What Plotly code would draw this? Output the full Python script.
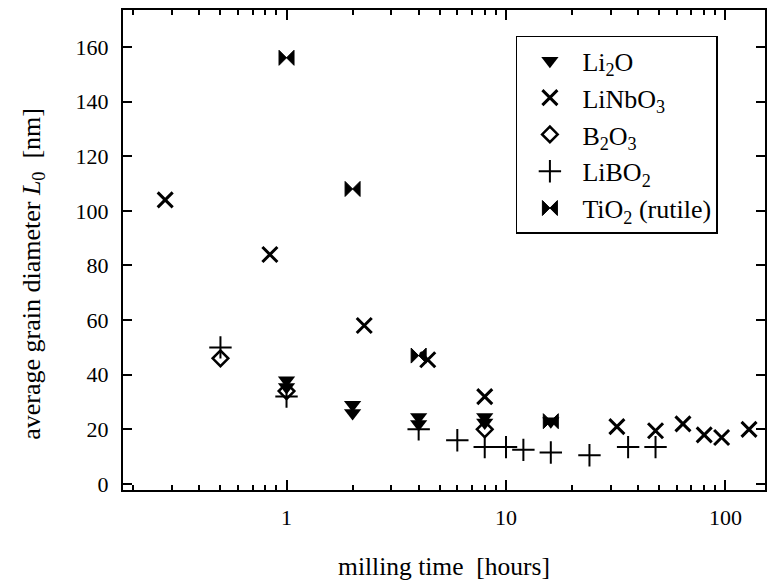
import plotly.graph_objects as go

# ---- data ----
li2o_x = [1, 1, 2, 2, 4, 4, 8, 8, 16]
li2o_y = [38, 35.5, 29, 26, 24.5, 22, 24.5, 22.5, 23]

linbo3_x = [0.28, 0.84, 2.26, 4.4, 8, 32, 48, 64, 80, 96, 128]
linbo3_y = [104, 84, 58, 45.5, 32, 21, 19.5, 22, 18, 17, 20]

b2o3_x = [0.5, 1, 8]
b2o3_y = [46, 34, 20]

libo2_x = [0.5, 1, 4, 6, 8, 10, 12, 16, 24, 36, 48]
libo2_y = [50, 32, 20, 16, 13.5, 13.5, 12.5, 11.5, 10.5, 13.5, 13.5]

tio2_x = [1, 2, 4, 16]
tio2_y = [156, 108, 47, 23]

x_major = [1, 10, 100]
x_major_text = ["1", "10", "100"]
x_minor = [0.2, 0.3, 0.4, 0.5, 0.6, 0.7, 0.8, 0.9,
           2, 3, 4, 5, 6, 7, 8, 9,
           20, 30, 40, 50, 60, 70, 80, 90]
y_ticks = [0, 20, 40, 60, 80, 100, 120, 140, 160]

x_title = "milling time  [hours]"
y_title = "average grain diameter <i>L</i><sub>0</sub>  [nm]"

FONT = "Liberation Serif"

fig = go.Figure()

fig.add_trace(go.Scatter(
    x=li2o_x, y=li2o_y, mode="markers", name="Li<sub>2</sub>O", legendgroup="a",
    marker=dict(symbol="triangle-down", size=15, color="black", line=dict(width=0))))
fig.add_trace(go.Scatter(
    x=linbo3_x, y=linbo3_y, mode="markers", name="LiNbO<sub>3</sub>", legendgroup="b",
    marker=dict(symbol="x-thin", size=15, color="black", line=dict(width=3, color="black"))))
fig.add_trace(go.Scatter(
    x=b2o3_x, y=b2o3_y, mode="markers", name="B<sub>2</sub>O<sub>3</sub>", legendgroup="c",
    marker=dict(symbol="diamond-open", size=12, color="black", line=dict(width=2.5, color="black"))))
fig.add_trace(go.Scatter(
    x=libo2_x, y=libo2_y, mode="markers", name="LiBO<sub>2</sub>", legendgroup="d",
    marker=dict(symbol="cross-thin", size=16, color="black", line=dict(width=2, color="black"))))
fig.add_trace(go.Scatter(
    x=tio2_x, y=tio2_y, mode="markers", name="TiO<sub>2</sub> (rutile)", legendgroup="e",
    marker=dict(symbol="bowtie", size=15, color="black", line=dict(width=1, color="black"))))

fig.update_layout(
    width=774, height=583,
    margin=dict(l=123, r=7, t=10, b=90),
    paper_bgcolor="white", plot_bgcolor="white",
    font=dict(family=FONT, size=21, color="black"),
    showlegend=True,
    legend=dict(
        x=0.612, y=0.946, xanchor="left", yanchor="top",
        bgcolor="white", bordercolor="black", borderwidth=1.5,
        font=dict(family=FONT, size=26, color="black"),
        tracegroupgap=0, itemwidth=55,
    ),
    annotations=[dict(
        text=y_title, textangle=-90, showarrow=False,
        xref="paper", yref="paper", x=-0.1413, y=0.451,
        xanchor="center", yanchor="middle",
        font=dict(family=FONT, size=26, color="black"),
    )],
)

fig.update_xaxes(
    type="log", range=[-0.745, 2.18],
    tickmode="array", tickvals=x_major, ticktext=x_major_text,
    ticks="inside", ticklen=10, tickwidth=1.5, tickcolor="black",
    minor=dict(tickmode="array", tickvals=x_minor, ticks="inside", ticklen=5,
               tickwidth=1.5, tickcolor="black"),
    showline=True, linewidth=2, linecolor="black", mirror="ticks",
    showgrid=False, zeroline=False,
    tickfont=dict(family=FONT, size=22), ticklabelstandoff=7,
    title=dict(text=x_title, font=dict(family=FONT, size=25.5), standoff=28),
)
fig.update_yaxes(
    range=[-2.2, 173.5],
    tickmode="array", tickvals=y_ticks,
    ticks="inside", ticklen=9, tickwidth=1.5, tickcolor="black",
    showline=True, linewidth=2, linecolor="black", mirror="ticks",
    showgrid=False, zeroline=False,
    tickfont=dict(family=FONT, size=22), ticklabelstandoff=8,
)

fig.write_html("out.html")
